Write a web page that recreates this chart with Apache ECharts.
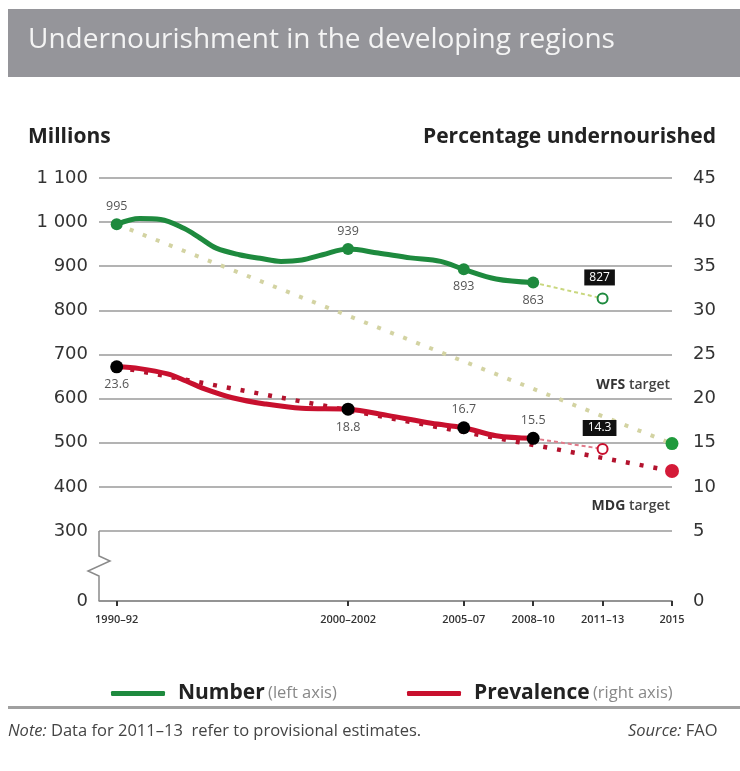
<!DOCTYPE html>
<html>
<head>
<meta charset="utf-8">
<script src="https://cdn.jsdelivr.net/npm/echarts@6.0.0/dist/echarts.min.js"></script>
<style>
html,body{margin:0;padding:0;background:#fff;}
#chart{width:740px;height:771px;}
</style>
</head>
<body>
<div id="chart"></div>
<script>
// ---- data ----
const tickYears = [1991, 2001, 2006, 2009, 2012, 2015];
const tickLabels = ['1990–92', '2000–2002', '2005–07', '2008–10', '2011–13', '2015'];

const numberYears  = [1991, 1992.0, 1992.9, 1993.9, 1994.6, 1995.3, 1996.3, 1997.2, 1998.1, 1999.0, 1999.9, 2001, 2002.3, 2003.7, 2005.0, 2006, 2007.4, 2009];
const numberValues = [995, 1008, 1006, 986, 964, 941, 926, 918, 911, 914, 926, 939, 930, 919, 911, 893, 871, 863];
const numberKeyYears  = [1991, 2001, 2006, 2009];
const numberKeyValues = [995, 939, 893, 863];
const numberKeyLabelPos = ['top', 'top', 'bottom', 'bottom'];
const numberProvYear = 2012, numberProvValue = 827;
const wfsYears = [1991, 2015];
const wfsValues = [995, 498];

const prevYears  = [1991, 1992.0, 1993.2, 1994.0, 1994.8, 1996.0, 1997.4, 1999.0, 2001, 2002.7, 2004.6, 2006, 2007.4, 2009];
const prevValues = [23.6, 23.4, 22.8, 22.0, 21.1, 20.1, 19.4, 18.9, 18.8, 18.1, 17.2, 16.7, 15.8, 15.5];
const prevKeyYears  = [1991, 2001, 2006, 2009];
const prevKeyValues = [23.6, 18.8, 16.7, 15.5];
const prevKeyLabelPos = ['bottom', 'bottom', 'top', 'top'];
const prevProvYear = 2012, prevProvValue = 14.3;
const mdgYears = [1991, 2015];
const mdgValues = [23.6, 11.8];

const leftBreak = {start: 0, end: 300, gap: 158.7};
const rightBreak = {start: 0, end: 5, gap: 7.935};

// ---- styles ----
const GREEN = '#1e8a3e';
const RED = '#c8102e';
const GRID = '#9a9a9a';
const zip = (a, b) => a.map((v, i) => [v, b[i]]);
const fmtThousands = v => v >= 1000 ? Math.floor(v / 1000) + ' ' + String(v % 1000).padStart(3, '0') : String(v);
const font = '"Open Sans", "DejaVu Sans", sans-serif';
const tickFont = '"DejaVu Sans", sans-serif';

const chart = echarts.init(document.getElementById('chart'), null, {renderer: 'canvas'});

const valueLabel = {show: true, color: '#555', fontSize: 12.5, fontFamily: font, formatter: p => String(p.value[1])};
const boxLabel = {show: true, position: 'top', distance: 7, offset: [-3, 0], color: '#fff', backgroundColor: '#111', padding: [2, 5], fontSize: 12, fontFamily: font, formatter: p => String(p.value[1])};

const option = {
  animation: false,
  backgroundColor: '#fff',
  grid: {left: 99, right: 68, top: 178, bottom: 170, outerBoundsMode: 'none'},
  xAxis: {
    type: 'value', min: 1990.235, max: 2015,
    axisLine: {show: true, lineStyle: {color: '#8a8a8a', width: 1.5}},
    axisTick: {show: true, customValues: tickYears, length: 5, lineStyle: {color: '#333', width: 2}},
    axisLabel: {customValues: tickYears, formatter: v => tickLabels[tickYears.indexOf(Math.round(v))] || '',
      color: '#333', fontSize: 11, fontWeight: 600, fontFamily: font, margin: 13},
    splitLine: {show: false}
  },
  yAxis: [{
    type: 'value', min: 0, max: 1100, interval: 100,
    breaks: [leftBreak],
    breakArea: {show: false},
    axisLine: {show: false}, axisTick: {show: false},
    axisLabel: {formatter: fmtThousands, color: '#333', fontSize: 18, fontFamily: tickFont, margin: 11},
    splitLine: {show: true, lineStyle: {color: GRID, width: 1.5}}
  }, {
    type: 'value', min: 0, max: 45, interval: 5,
    breaks: [rightBreak],
    breakArea: {show: false},
    axisLine: {show: false}, axisTick: {show: false},
    axisLabel: {color: '#333', fontSize: 18, fontFamily: tickFont, margin: 21},
    splitLine: {show: false}
  }],
  legend: [{
    data: ['Number'], left: 106, top: 678, icon: 'roundRect', itemWidth: 54, itemHeight: 5, itemGap: 0,
    selectedMode: false,
    formatter: n => '{a|Number} {b|(left axis)}',
    textStyle: {padding: [0, 0, 0, 8], rich: {a: {fontSize: 21, fontWeight: 'bold', color: '#222', fontFamily: font}, b: {fontSize: 16.5, color: '#888', fontFamily: font}}}
  }, {
    data: ['Prevalence'], left: 402, top: 678, icon: 'roundRect', itemWidth: 54, itemHeight: 5, itemGap: 0,
    selectedMode: false,
    formatter: n => '{a|Prevalence} {b|(right axis)}',
    textStyle: {padding: [0, 0, 0, 8], rich: {a: {fontSize: 21, fontWeight: 'bold', color: '#222', fontFamily: font}, b: {fontSize: 16.5, color: '#888', fontFamily: font}}}
  }],
  graphic: [
    {type: 'rect', left: 8, top: 9, shape: {width: 732, height: 68}, style: {fill: '#95959a'}, silent: true},
    {type: 'text', left: 28, top: 26, style: {text: 'Undernourishment in the developing regions', fill: '#f4f4f4', font: '28px ' + font}, silent: true},
    {type: 'text', left: 28, top: 127, style: {text: 'Millions', fill: '#222', font: 'bold 21px ' + font}, silent: true},
    {type: 'text', right: 24, top: 127, style: {text: 'Percentage undernourished', fill: '#222', font: 'bold 21px ' + font}, silent: true},
    {type: 'rect', left: 8, top: 706, shape: {width: 732, height: 3}, style: {fill: '#a0a0a0'}, silent: true},
    {type: 'text', left: 8, top: 723, style: {text: '{i|Note:} Data for 2011–13  refer to provisional estimates.', fill: '#444', font: '16.5px ' + font,
      rich: {i: {font: 'italic 16.5px ' + font, fill: '#444'}}}, silent: true},
    {type: 'text', left: 628, top: 723, style: {text: '{i|Source:} FAO', fill: '#444', font: '16.5px ' + font,
      rich: {i: {font: 'italic 16.5px ' + font, fill: '#444'}}}, silent: true}
  ],
  series: [
    // left axis segment with break zigzag
    {
      type: 'custom', silent: true, yAxisIndex: 0, data: [[tickYears[0], 0]], z: 1,
      renderItem: (params, api) => {
        const cs = params.coordSys;
        const x = cs.x;
        const yTop = api.coord([tickYears[0], leftBreak.end])[1];
        const yBot = api.coord([tickYears[0], leftBreak.start])[1];
        const m = (yTop + yBot) / 2;
        return {type: 'polyline', shape: {points: [[x, yTop], [x, m - 10], [x + 11, m - 5], [x - 11, m + 5], [x, m + 10], [x, yBot]]},
          style: {stroke: '#8a8a8a', lineWidth: 1.5, fill: null}};
      }
    },
    // WFS target dotted (+ gridline at the break's upper edge)
    {name: 'WFS', type: 'line', yAxisIndex: 0, data: zip(wfsYears, wfsValues), symbol: 'none', z: 2,
      lineStyle: {color: '#d3d3a2', width: 4, type: [4, 10], cap: 'butt'},
      markLine: {silent: true, symbol: 'none', label: {show: false}, emphasis: {disabled: true}, z: 1,
        lineStyle: {color: GRID, width: 1.5, type: 'solid'}, data: [{yAxis: leftBreak.end}]}},
    // MDG target dotted
    {name: 'MDG', type: 'line', yAxisIndex: 1, data: zip(mdgYears, mdgValues), symbol: 'none', z: 2,
      lineStyle: {color: '#b3132e', width: 4.5, type: [4, 10], cap: 'butt'}},
    // provisional dashed segments
    {name: 'NumberProv', type: 'line', yAxisIndex: 0, data: [[numberKeyYears[3], numberKeyValues[3]], [numberProvYear, numberProvValue]], symbol: 'none', z: 3,
      lineStyle: {color: '#c9d77e', width: 2, type: [4, 3]}},
    {name: 'PrevProv', type: 'line', yAxisIndex: 1, data: [[prevKeyYears[3], prevKeyValues[3]], [prevProvYear, prevProvValue]], symbol: 'none', z: 3,
      lineStyle: {color: '#e07a8a', width: 2, type: [4, 3]}},
    // main lines
    {name: 'Number', type: 'line', yAxisIndex: 0, data: zip(numberYears, numberValues), symbol: 'none', smooth: 0.35, z: 4,
      itemStyle: {color: GREEN}, lineStyle: {color: GREEN, width: 5}},
    {name: 'Prevalence', type: 'line', yAxisIndex: 1, data: zip(prevYears, prevValues), symbol: 'none', smooth: 0.35, z: 4,
      itemStyle: {color: RED}, lineStyle: {color: RED, width: 5}},
    // key markers
    {name: 'NumberKeys', type: 'scatter', yAxisIndex: 0, symbolSize: 12, z: 5, itemStyle: {color: GREEN, opacity: 1},
      data: numberKeyYears.map((y, i) => ({value: [y, numberKeyValues[i]], label: Object.assign({}, valueLabel, {position: numberKeyLabelPos[i], distance: 5})}))},
    {name: 'PrevKeys', type: 'scatter', yAxisIndex: 1, symbolSize: 13, z: 5, itemStyle: {color: '#000', opacity: 1},
      data: prevKeyYears.map((y, i) => ({value: [y, prevKeyValues[i]], label: Object.assign({}, valueLabel, {position: prevKeyLabelPos[i], distance: 5})}))},
    // provisional markers
    {name: 'NumberProvPt', type: 'scatter', yAxisIndex: 0, symbol: 'circle', symbolSize: 10, z: 5,
      itemStyle: {color: '#fff', borderColor: GREEN, borderWidth: 2, opacity: 1},
      data: [[numberProvYear, numberProvValue]], label: boxLabel},
    {name: 'PrevProvPt', type: 'scatter', yAxisIndex: 1, symbol: 'circle', symbolSize: 10, z: 5,
      itemStyle: {color: '#fff', borderColor: RED, borderWidth: 2, opacity: 1},
      data: [[prevProvYear, prevProvValue]], label: boxLabel},
    // targets
    {name: 'WFSPt', type: 'scatter', yAxisIndex: 0, symbolSize: 13, z: 5, itemStyle: {color: '#1f9a3c', opacity: 1},
      data: [[wfsYears[1], wfsValues[1]]],
      label: {show: true, position: 'top', align: 'right', offset: [-2, -40], formatter: '{b|WFS} target', color: '#444', fontSize: 14, fontWeight: 600, fontFamily: font,
        rich: {b: {fontWeight: 'bold', color: '#333', fontSize: 14, fontFamily: font}}}},
    {name: 'MDGPt', type: 'scatter', yAxisIndex: 1, symbolSize: 14, z: 5, itemStyle: {color: '#d41a38', opacity: 1},
      data: [[mdgYears[1], mdgValues[1]]],
      label: {show: true, position: 'bottom', align: 'right', offset: [-2, 16], formatter: '{b|MDG} target', color: '#444', fontSize: 14, fontWeight: 600, fontFamily: font,
        rich: {b: {fontWeight: 'bold', color: '#333', fontSize: 14, fontFamily: font}}}}
  ]
};
chart.setOption(option);
</script>
</body>
</html>
